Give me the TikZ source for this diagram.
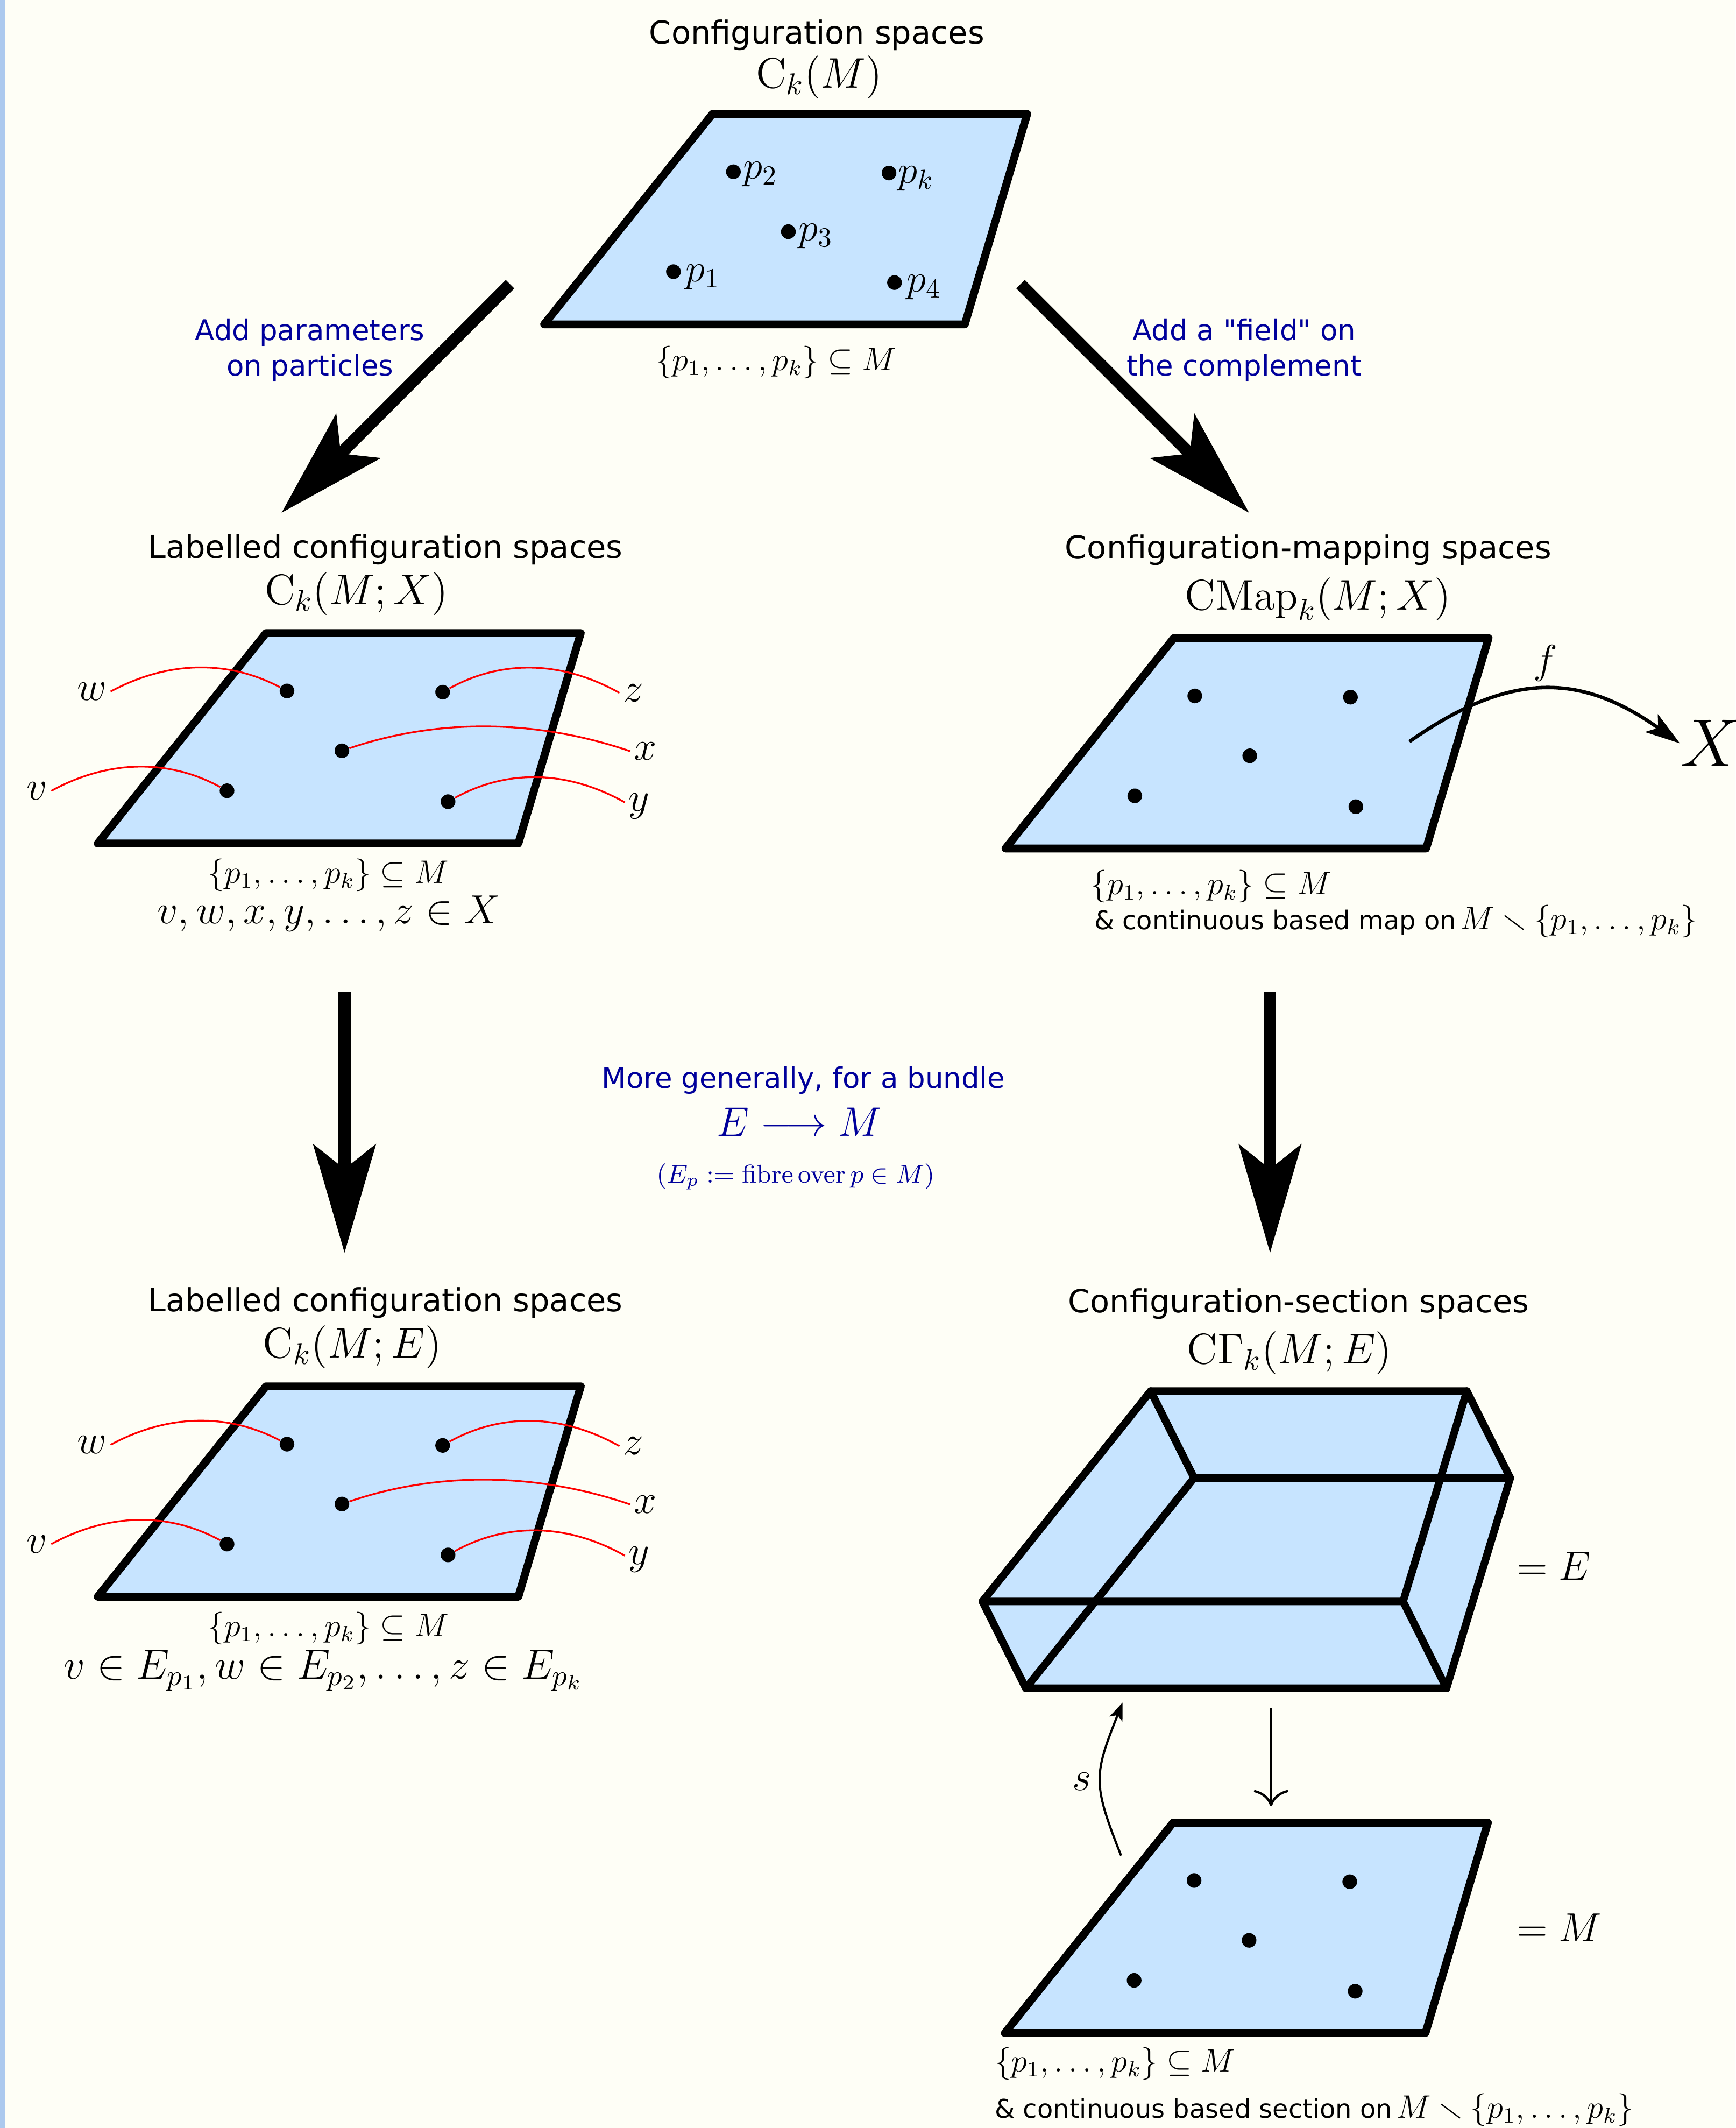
\RequirePackage{fix-cm}
\documentclass[tikz,border=0pt]{standalone}
\usepackage{amssymb}
\usepackage[no-math]{fontspec}
\newfontfamily\dvs{DejaVu Sans}
\usetikzlibrary{arrows.meta}
\definecolor{bgc}{RGB}{254,254,246}
\definecolor{stripc}{RGB}{172,201,238}
\definecolor{platec}{RGB}{199,228,255}
\definecolor{navyc}{RGB}{0,0,155}
\tikzset{
  plate/.style={fill=platec, draw=black, line width=2.9pt, line join=round},
  boxline/.style={draw=black, line width=2.8pt, line join=round, line cap=round},
  dot/.style={circle, fill=black, inner sep=0pt, minimum size=5.4pt},
  title/.style={font=\dvs\fontsize{11.7}{14}\selectfont, anchor=base, inner sep=0pt},
  formula/.style={font=\fontsize{15.8}{19}\selectfont, anchor=base, inner sep=0pt},
  setlab/.style={font=\fontsize{12}{14}\selectfont, anchor=base, inner sep=0pt},
  ptlab/.style={font=\fontsize{14.5}{17}\selectfont, anchor=base west, inner sep=0pt},
  wlab/.style={font=\fontsize{15}{18}\selectfont, inner xsep=1.2pt, inner ysep=0pt, text depth=0pt},
  note/.style={font=\dvs\fontsize{10.5}{13}\selectfont, text=navyc, anchor=base, inner sep=0pt},
  redcurve/.style={draw=red, line width=0.65pt},
  bigarrow/.style={line width=4.4pt, -{Stealth[length=39.8pt,width=22.8pt,inset=8.9pt]}},
  thinarrow/.style={line width=0.85pt, -{Computer Modern Rightarrow[length=6pt,width=12.7pt]}},
  sarrow/.style={line width=0.8pt, -{Stealth[length=6.5pt,width=5pt,inset=1.5pt]}},
  farrow/.style={line width=1.3pt, -{Stealth[length=12.8pt,width=8pt,inset=3pt]}},
}
\newcommand\drawplate[3]{%
  \begin{scope}[shift={(#2,#3)}]
    \path[plate] (0,0) -- (232,0) -- (186,155) -- (-124,155) -- cycle;
    \node[dot] (#1a) at (15.5,42.6) {};
    \node[dot] (#1b) at (130.2,43.5) {};
    \node[dot] (#1c) at (56,86.7) {};
    \node[dot] (#1d) at (-28.7,116.2) {};
    \node[dot] (#1e) at (134.2,124.2) {};
  \end{scope}}
\newcommand\labelledplate[1]{%
  \drawplate{#1P}{196}{466.5}
  \node[wlab,anchor=base east] (#1w) at (81.5,516) {$w$};
  \node[wlab,anchor=base east] (#1v) at (37.8,589.2) {$v$};
  \node[wlab,anchor=base west] (#1z) at (456.5,517) {$z$};
  \node[wlab,anchor=base west] (#1x) at (464.5,560) {$x$};
  \node[wlab,anchor=base west] (#1y) at (460.5,597.7) {$y$};
  \draw[redcurve] (#1w.east) .. controls (124.5,486.4) and (168.5,486.4) .. (#1Pa);
  \draw[redcurve] (#1Pb) .. controls (369.2,486.3) and (413.3,486.3) .. (#1z.west);
  \draw[redcurve] (#1Pc) .. controls (322,529.5) and (394,529.5) .. (#1x.west);
  \draw[redcurve] (#1v.east) .. controls (80.6,559.4) and (124.8,559.4) .. (#1Pd);
  \draw[redcurve] (#1Pe) .. controls (373.1,567) and (417.3,567) .. (#1y.west);
}
\begin{document}
\begin{tikzpicture}[x=0.5pt,y=-0.5pt]
\fill[bgc] (0,0) rectangle (1279,1568);
\useasboundingbox (0,0) rectangle (1279,1568);
\fill[stripc] (0,0) rectangle (4,1568);

% ---------- top ----------
\node[title] (t1) at (602,32.4) {Configuration spaces};
\node[formula] (f1) at (603.6,64.9) {$\mathrm{C}_k(M)$};
\drawplate{T}{525}{84}
\node[ptlab] (lp2) at (547.5,131.7) {$p_2$};
\node[ptlab] (lpk) at (661.5,135) {$p_k$};
\node[ptlab] (lp3) at (588,177.5) {$p_3$};
\node[ptlab] (lp1) at (505,207.7) {$p_1$};
\node[ptlab] (lp4) at (668,215) {$p_4$};
\node[setlab] (s1) at (572,273) {$\{p_1,\ldots,p_k\}\subseteq M$};

\node[note] (n1a) at (228.4,250.8) {Add parameters};
\node[note] (n1b) at (228.4,277) {on particles};
\node[note] (n2a) at (916.9,250.8) {Add a "field" on};
\node[note] (n2b) at (916.9,277) {the complement};

\coordinate (a1s) at (375.9,209.4);
\coordinate (a1e) at (207.4,377.9);
\coordinate (a2s) at (752.1,209.4);
\coordinate (a2e) at (920.6,377.9);
\draw[bigarrow] (a1s) -- (a1e);
\draw[bigarrow] (a2s) -- (a2e);

% ---------- middle left ----------
\node[title] (t2) at (284,411.3) {Labelled configuration spaces};
\node[formula] (f2) at (262.6,445.5) {$\mathrm{C}_k(M;X)$};
\labelledplate{A}
\node[setlab] (s2) at (242,650.8) {$\{p_1,\ldots,p_k\}\subseteq M$};
\node[font=\fontsize{15}{18}\selectfont, anchor=base, inner sep=0pt] (e2) at (242.4,680.6) {$v,w,x,y,\ldots,z\in X$};

% ---------- middle right ----------
\node[title] (t3) at (964.1,411.9) {Configuration-mapping spaces};
\node[formula] (f3) at (971.3,449.5) {$\mathrm{CMap}_k(M;X)$};
\drawplate{R}{865}{470.2}
\node[font=\fontsize{25}{30}\selectfont, anchor=base west, inner sep=0pt] (X) at (1238,564.8) {$X$};
\node[wlab, anchor=base] (fl) at (1139,496.2) {$f$};
\coordinate (fs) at (1038.7,546.4);
\draw[farrow] (fs) .. controls (1112,495) and (1164,495) .. (X.west);
\node[setlab, anchor=base west] (s3) at (803.6,659.3) {$\{p_1,\ldots,p_k\}\subseteq M$};
\node[anchor=base west, inner sep=0pt] (m3) at (806,685) {\dvs\fontsize{9.5}{11}\selectfont \& continuous based map on\,\fontsize{12}{14}\selectfont$M\smallsetminus\{p_1,\ldots,p_k\}$};

% ---------- vertical arrows ----------
\coordinate (v1s) at (253.9,731);
\coordinate (v1e) at (253.9,923.2);
\coordinate (v2s) at (936,731);
\coordinate (v2e) at (936,923.2);
\draw[bigarrow] (v1s) -- (v1e);
\draw[bigarrow] (v2s) -- (v2e);

% ---------- centre ----------
\node[note] (c1) at (592,802) {More generally, for a bundle};
\node[font=\fontsize{15.2}{18}\selectfont, text=navyc, anchor=base, inner sep=0pt] (c2) at (589,837) {$E\longrightarrow M$};
\node[font=\fontsize{9.5}{11}\selectfont, text=navyc, anchor=base, inner sep=0pt] (c3) at (586.3,871.7) {$(E_p := \mathrm{fibre\,over}\,p\in M)$};

% ---------- bottom left ----------
\node[title] (t4) at (284,966.3) {Labelled configuration spaces};
\node[formula] (f4) at (259.6,1000.5) {$\mathrm{C}_k(M;E)$};
\begin{scope}[shift={(0,555)}]
\labelledplate{B}
\end{scope}
\node[setlab] (s4) at (242,1205.8) {$\{p_1,\ldots,p_k\}\subseteq M$};
\node[font=\fontsize{15.5}{18}\selectfont, anchor=base, inner sep=0pt] (e4) at (238.3,1237.2) {$v\in E_{p_1},w\in E_{p_2},\ldots,z\in E_{p_k}$};

% ---------- bottom right ----------
\node[title] (t5) at (957,967.3) {Configuration-section spaces};
\node[formula] (f5) at (950.3,1005) {$\mathrm{C}\Gamma_k(M;E)$};
\coordinate (bA) at (848,1025);
\coordinate (bB) at (1081,1025);
\coordinate (bC) at (1034,1180);
\coordinate (bD) at (724,1180);
\coordinate (bE) at (880,1089);
\coordinate (bF) at (1113,1089);
\coordinate (bG) at (1066,1244);
\coordinate (bH) at (756,1244);
\fill[platec] (bA) -- (bB) -- (bF) -- (bG) -- (bH) -- (bD) -- cycle;
\draw[boxline] (bA) -- (bB) -- (bC) -- (bD) -- cycle;
\draw[boxline] (bE) -- (bF) -- (bG) -- (bH) -- cycle;
\draw[boxline] (bA) -- (bE) (bB) -- (bF) (bC) -- (bG) (bD) -- (bH);
\node[font=\fontsize{15}{18}\selectfont, anchor=base west, inner sep=0pt] (eqE) at (1117.3,1164.2) {$=E$};

\coordinate (ps) at (936.7,1258.4);
\coordinate (pe) at (936.7,1331);
\draw[thinarrow] (ps) -- (pe);
\coordinate (ss) at (826.2,1367.2);
\coordinate (se) at (827.3,1254.5);
\draw[sarrow] (ss) .. controls (805,1314) and (806,1308) .. (se);
\node[wlab, anchor=base] (sl) at (797.2,1319.2) {$s$};

\drawplate{M}{864.5}{1343}
\node[font=\fontsize{15}{18}\selectfont, anchor=base west, inner sep=0pt] (eqM) at (1117.3,1430.5) {$=M$};
\node[setlab, anchor=base west] (s5) at (732.8,1526.6) {$\{p_1,\ldots,p_k\}\subseteq M$};
\node[anchor=base west, inner sep=0pt] (m5) at (732.8,1560.5) {\dvs\fontsize{9.5}{11}\selectfont \& continuous based section on\,\fontsize{12}{14}\selectfont$M\smallsetminus\{p_1,\ldots,p_k\}$};
\end{tikzpicture}
\end{document}
